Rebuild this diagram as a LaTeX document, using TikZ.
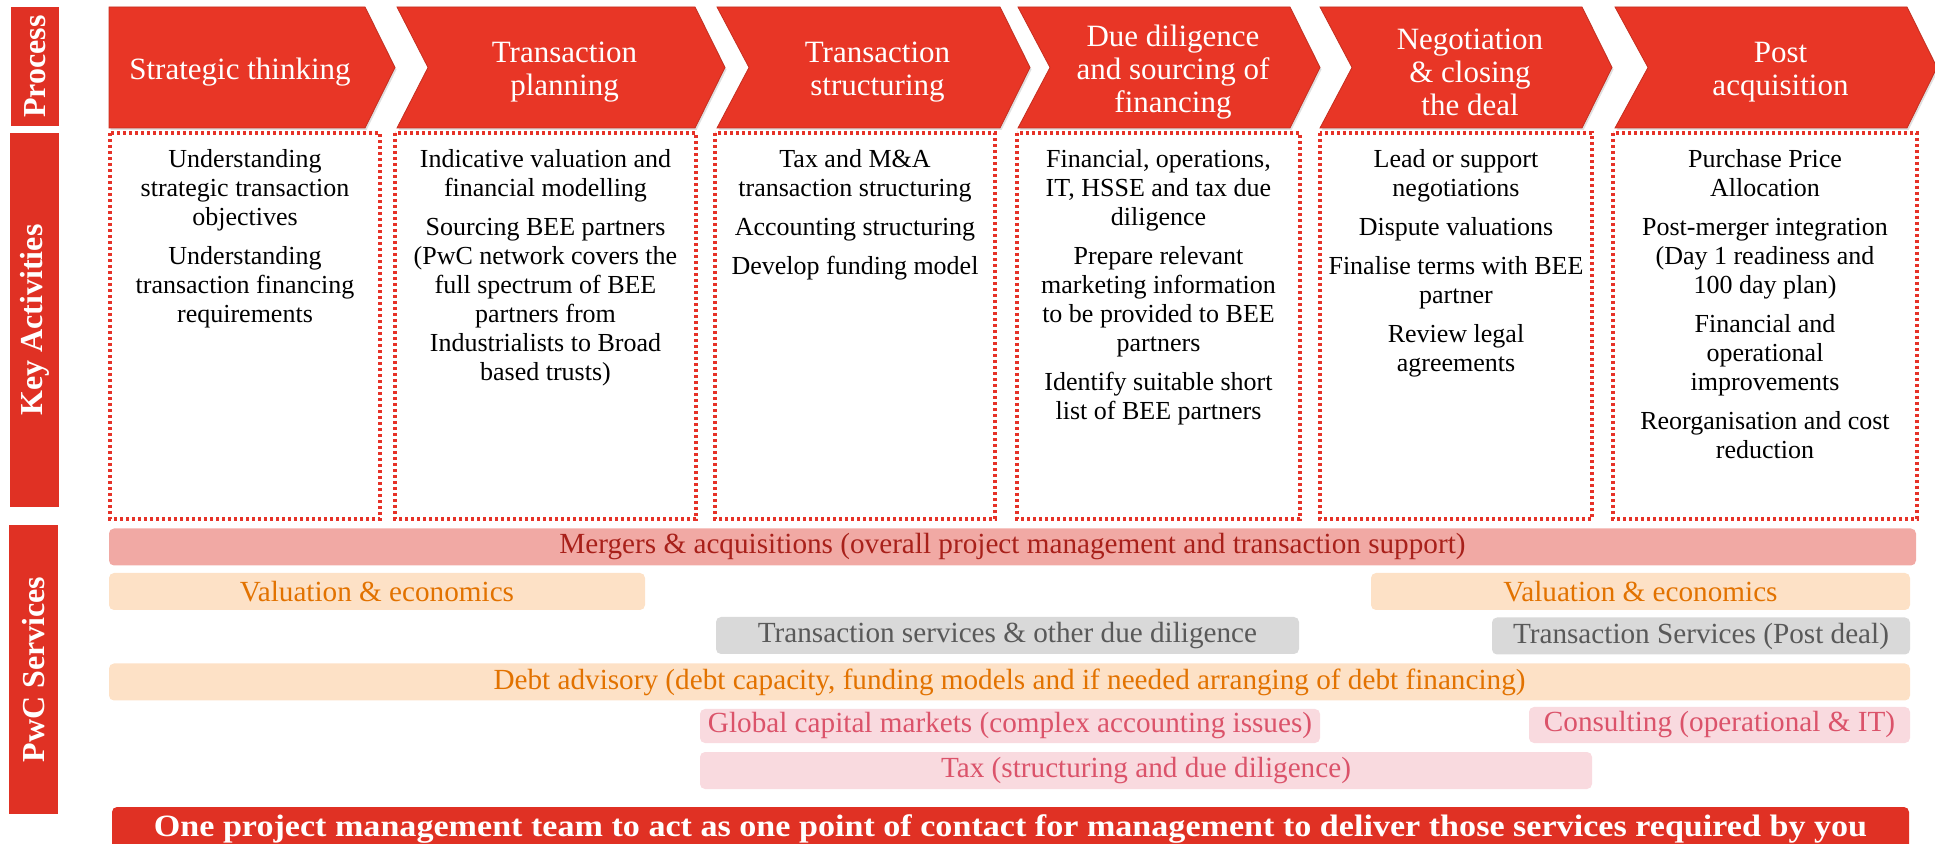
\documentclass[tikz,border=0pt]{standalone}
\usepackage{fontspec}
\setmainfont{Liberation Serif}
\newfontfamily\teamfont[FakeStretch=1.1]{Liberation Serif}
\usetikzlibrary{shadows}

\definecolor{chev}{RGB}{232,54,38}
\definecolor{sidered}{RGB}{224,49,36}
\definecolor{dotred}{RGB}{230,50,40}
\definecolor{mafill}{RGB}{241,169,164}
\definecolor{matext}{RGB}{168,32,26}
\definecolor{valfill}{RGB}{253,225,198}
\definecolor{valtext}{RGB}{226,114,0}
\definecolor{tsfill}{RGB}{217,217,217}
\definecolor{tstext}{RGB}{89,89,89}
\definecolor{pkfill}{RGB}{249,218,223}
\definecolor{pktext}{RGB}{219,83,106}

\begin{document}
\begin{tikzpicture}[x=0.5pt, y=-0.5pt,
	sidebar/.style={fill=sidered, text=white, rotate=90, inner sep=0pt, font=\bfseries\fontsize{16}{18}\selectfont},
	chevron/.style={fill=chev, draw=chev!85!black, line width=0.4pt,
		drop shadow={opacity=0.25, shadow xshift=0.8pt, shadow yshift=-1pt}},
	chevtext/.style={text=white, align=center, inner sep=0pt, font=\fontsize{15.5}{16.5}\selectfont},
	actbox/.style={draw=dotred, line width=1.6pt, dash pattern=on 1.6pt off 1.4pt},
	acttext/.style={anchor=north, align=center, inner sep=0pt, font=\fontsize{13}{14.5}\selectfont},
	bar/.style={rounded corners=2.5pt, inner sep=0pt, minimum height=18.5pt, font=\fontsize{14.6}{16}\selectfont}]
	\clip (0,0) rectangle (1935,844);

	% row labels on the left
	\node[sidebar, minimum width=59.5pt, minimum height=24pt] (process) at (35,66.5) {Process};
	\node[sidebar, minimum width=187pt, minimum height=24.5pt] (keyact) at (34.5,320) {Key Activities};
	\node[sidebar, minimum width=144.5pt, minimum height=24.5pt] (services) at (33.5,669.5) {PwC Services};

	% process chevrons
	\foreach \l/\c/\n/\txt [count=\i] in {109/365/0/{Strategic thinking},
		397/695/31/{Transaction\\planning}, 717/1000/32/{Transaction\\structuring},
		1018/1290/32/{Due diligence\\and sourcing of\\financing},
		1320/1582/32/{Negotiation\\\& closing\\the deal}, 1615/1907/33/{Post\\acquisition}} {
		\draw[chevron] (\l,7) -- (\c,7) -- (\c+30,67.5) -- (\c,128) -- (\l,128) -- (\l+\n,67.5) -- cycle;
		\node[chevtext] (p\i) at ({(\l+\n+\c)/2+3},72) {\txt};
	}

	% key activities under each step
	\foreach \l/\r/\txt [count=\i] in {
		110/380/{Understanding\\strategic transaction\\objectives\\[5pt]Understanding\\transaction financing\\requirements},
		395/696/{Indicative valuation and\\financial modelling\\[5pt]Sourcing BEE partners\\(PwC network covers the\\full spectrum of BEE\\partners from\\Industrialists to Broad\\based trusts)},
		715/995/{Tax and M\&A\\transaction structuring\\[5pt]Accounting structuring\\[5pt]Develop funding model},
		1017/1300/{Financial, operations,\\IT, HSSE and tax due\\diligence\\[5pt]Prepare relevant\\marketing information\\to be provided to BEE\\partners\\[5pt]Identify suitable short\\list of BEE partners},
		1320/1592/{Lead or support\\negotiations\\[5pt]Dispute valuations\\[5pt]Finalise terms with BEE\\partner\\[5pt]Review legal\\agreements},
		1613/1917/{Purchase Price\\Allocation\\[5pt]Post-merger integration\\(Day 1 readiness and\\100 day plan)\\[5pt]Financial and\\operational\\improvements\\[5pt]Reorganisation and cost\\reduction}} {
		\draw[actbox] (\l,133) rectangle (\r,519);
		\node[acttext] (k\i) at ({(\l+\r)/2},149) {\txt};
	}

	% service bars
	\node[bar, fill=mafill, text=matext, minimum width=903.5pt] (s1) at (1012.5,547) {Mergers \& acquisitions (overall project management and transaction support)};
	\node[bar, fill=valfill, text=valtext, minimum width=268pt] (s2) at (377,591.5) {Valuation \& economics};
	\node[bar, fill=valfill, text=valtext, minimum width=269.5pt] (s3) at (1640.5,591.5) {Valuation \& economics};
	\node[bar, fill=tsfill, text=tstext, minimum width=291.5pt] (s4) at (1007.5,635.5) {Transaction services \& other due diligence};
	\node[bar, fill=tsfill, text=tstext, minimum width=209pt] (s5) at (1701,636) {Transaction Services (Post deal)};
	\node[bar, fill=valfill, text=valtext, minimum width=900.5pt] (s6) at (1009.5,682) {Debt advisory (debt capacity, funding models and if needed arranging of debt financing)};
	\node[bar, fill=pkfill, text=pktext, minimum width=310pt, minimum height=17pt] (s7) at (1010,726) {Global capital markets (complex accounting issues)};
	\node[bar, fill=pkfill, text=pktext, minimum width=190.5pt, minimum height=18pt] (s8) at (1719.5,725) {Consulting (operational \& IT)};
	\node[bar, fill=pkfill, text=pktext, minimum width=446pt] (s9) at (1146,770.5) {Tax (structuring and due diligence)};

	% one team across everything
	\node[bar, fill=sidered, text=white, minimum width=898.5pt, minimum height=22pt, font=\teamfont\bfseries\fontsize{15.5}{17}\selectfont] (team) at (1010.5,829) {One project management team to act as one point of contact for management to deliver those services required by you};
\end{tikzpicture}
\end{document}
